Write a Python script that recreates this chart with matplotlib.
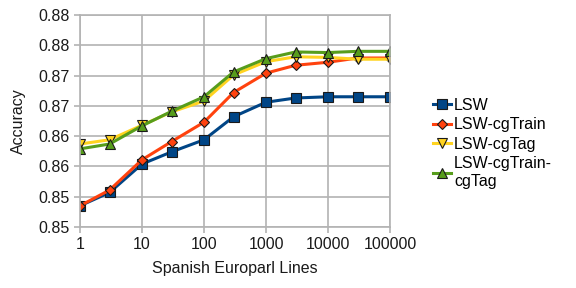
import numpy as np
import matplotlib.pyplot as plt
from matplotlib.ticker import FixedLocator, FixedFormatter

plt.rcParams['font.family'] = ['Liberation Sans', 'DejaVu Sans']

lines = [1, 3, 10, 30, 100, 300, 1000, 3000, 10000, 30000, 100000]
lsw = [0.8535, 0.8557, 0.8604, 0.8624, 0.8644, 0.8682, 0.8706, 0.8713, 0.8715, 0.8715, 0.8715]
lsw_cgtrain = [0.8535, 0.8561, 0.8611, 0.8641, 0.8673, 0.8722, 0.8754, 0.8767, 0.8772, 0.8779, 0.8779]
lsw_cgtag = [0.8637, 0.8644, 0.8668, 0.8690, 0.8708, 0.8751, 0.8773, 0.8781, 0.8780, 0.8777, 0.8777]
lsw_cgtrain_cgtag = [0.8629, 0.8637, 0.8667, 0.8691, 0.8715, 0.8756, 0.8778, 0.8789, 0.8788, 0.8790, 0.8790]

y_ticks = [0.850, 0.855, 0.860, 0.865, 0.870, 0.875, 0.880, 0.885]
y_labels = ['0.85', '0.85', '0.86', '0.86', '0.87', '0.87', '0.88', '0.88']
x_ticks = [1, 10, 100, 1000, 10000, 100000]
x_labels = ['1', '10', '100', '1000', '10000', '100000']

series = [
    ('LSW', lsw, '#004586', 's'),
    ('LSW-cgTrain', lsw_cgtrain, '#ff420e', 'D'),
    ('LSW-cgTag', lsw_cgtag, '#ffd320', 'v'),
    ('LSW-cgTrain-\ncgTag', lsw_cgtrain_cgtag, '#579d1c', '^'),
]

fs = 11.5

fig = plt.figure(figsize=(5.76, 2.88), dpi=100)
ax = fig.add_axes([80 / 576, 1 - 227 / 288, 310 / 576, 212 / 288])

for name, vals, col, mk in series:
    ms = 7 if mk == 's' else 6.5
    if mk == 'D':
        ms = 5.5
    ax.plot(lines, vals, color=col, lw=2.2, marker=mk, ms=ms,
            markeredgecolor='#1a1a1a', markeredgewidth=0.8, label=name)

ax.set_xscale('log')
ax.set_xlim(1, 100000)
ax.set_ylim(0.850, 0.885)
ax.xaxis.set_major_locator(FixedLocator(x_ticks))
ax.xaxis.set_major_formatter(FixedFormatter(x_labels))
ax.xaxis.set_minor_locator(FixedLocator([]))
ax.yaxis.set_major_locator(FixedLocator(y_ticks))
ax.yaxis.set_major_formatter(FixedFormatter(y_labels))

ax.grid(True, color='#b3b3b3', lw=1.2)
ax.set_axisbelow(True)
for s in ax.spines.values():
    s.set_color('#b3b3b3')
    s.set_linewidth(1.2)
ax.tick_params(colors='#b3b3b3', labelcolor='#1a1a1a', labelsize=fs,
               length=4, width=1.2)

ax.set_xlabel('Spanish Europarl Lines', fontsize=fs, color='#1a1a1a', labelpad=6)
ax.set_ylabel('Accuracy', fontsize=fs, color='#1a1a1a', labelpad=9)

ax.legend(loc='center left', bbox_to_anchor=(1.14, 0.395), frameon=False,
          fontsize=fs, handlelength=1.1, handletextpad=0.2,
          labelspacing=0.28, borderaxespad=0, borderpad=0)

fig.savefig('out.png', dpi=100)
